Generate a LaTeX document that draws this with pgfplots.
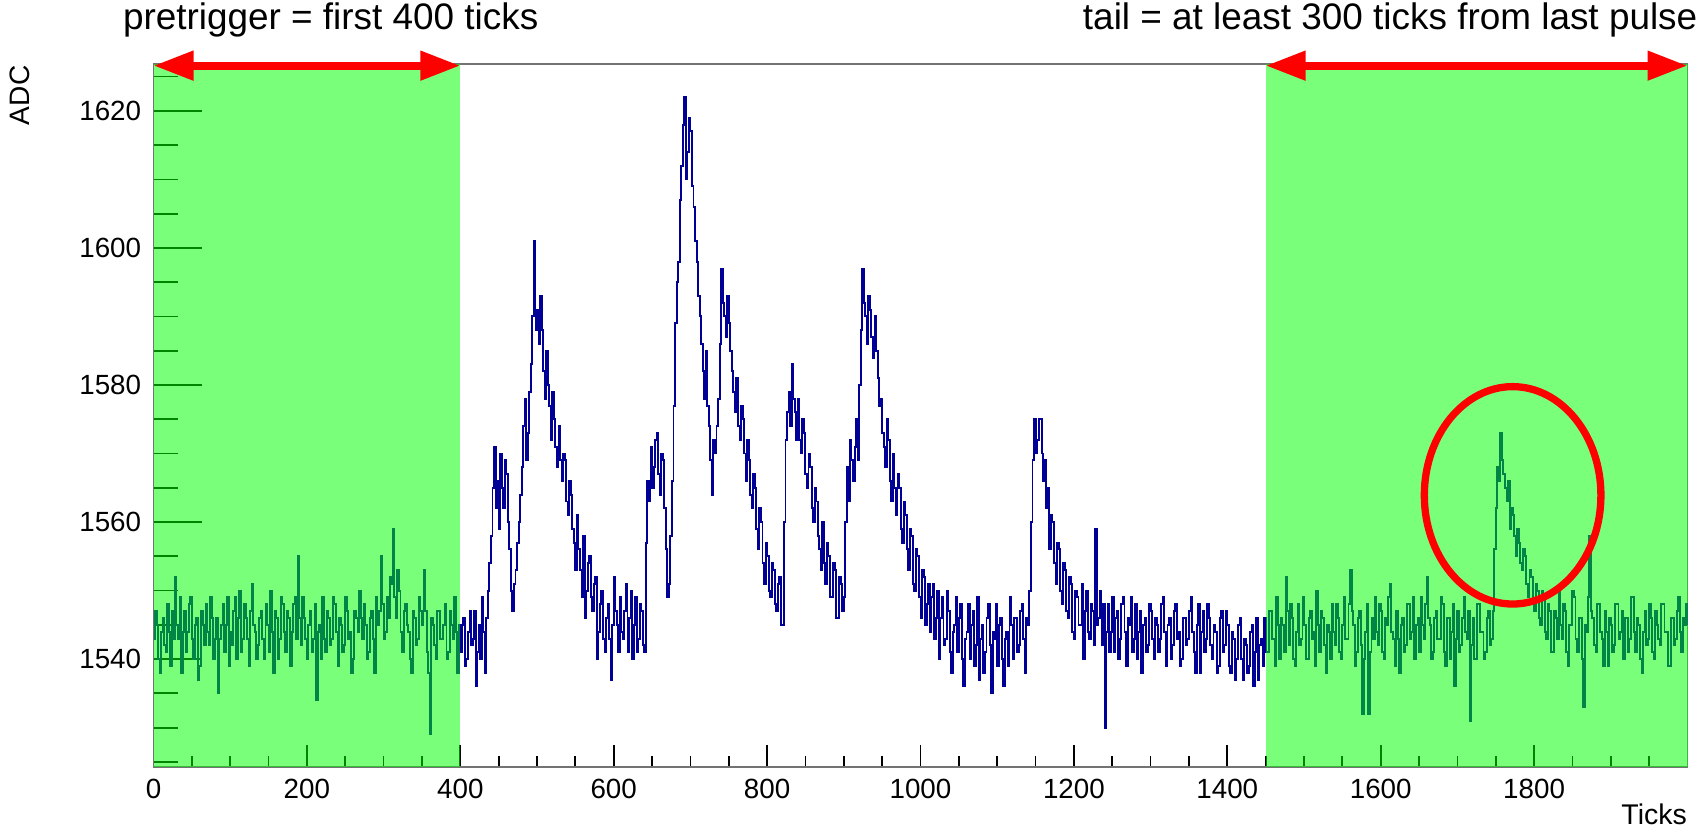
\documentclass[border=0pt]{standalone}
\usepackage{fontspec}
\setmainfont{Liberation Sans}
\usepackage{pgfplots}
\usepackage{pgfplotstable}
\pgfplotsset{compat=1.18}
\usetikzlibrary{arrows.meta}
\definecolor{wavecol}{RGB}{0,0,150}
\pgfplotstableread[header=false]{
1543
1547
1545
1540
1538
1544
1546
1542
1541
1548
1544
1539
1547
1543
1552
1545
1543
1549
1538
1544
1547
1541
1544
1548
1549
1543
1540
1545
1546
1537
1539
1547
1545
1542
1548
1544
1542
1549
1546
1540
1543
1546
1535
1543
1545
1548
1541
1545
1549
1539
1544
1542
1547
1549
1540
1546
1550
1541
1543
1548
1546
1543
1539
1547
1551
1545
1544
1540
1542
1546
1547
1543
1540
1548
1545
1541
1550
1544
1538
1547
1546
1540
1543
1549
1548
1544
1541
1547
1546
1539
1544
1548
1549
1543
1555
1546
1542
1549
1546
1543
1540
1545
1547
1541
1543
1548
1534
1544
1545
1540
1549
1543
1541
1547
1546
1542
1543
1549
1548
1544
1539
1546
1545
1541
1542
1549
1547
1543
1544
1538
1540
1547
1546
1544
1550
1546
1543
1548
1545
1540
1541
1546
1547
1543
1538
1549
1545
1547
1555
1548
1543
1544
1549
1546
1552
1551
1559
1549
1546
1553
1550
1544
1541
1547
1548
1545
1544
1540
1538
1547
1546
1542
1543
1549
1547
1545
1553
1547
1541
1538
1529
1546
1545
1542
1540
1547
1547
1543
1543
1545
1548
1540
1541
1547
1545
1543
1549
1544
1538
1545
1541
1545
1546
1539
1540
1544
1547
1542
1543
1547
1536
1541
1545
1540
1549
1544
1538
1546
1550
1554
1558
1565
1571
1562
1566
1559
1570
1565
1562
1569
1567
1560
1556
1550
1547
1551
1553
1557
1560
1564
1568
1574
1578
1569
1573
1579
1583
1590
1601
1588
1591
1586
1593
1588
1582
1578
1585
1580
1577
1572
1579
1575
1571
1568
1574
1569
1566
1570
1569
1563
1561
1566
1564
1559
1557
1553
1561
1556
1553
1549
1558
1546
1550
1554
1555
1549
1547
1551
1552
1540
1544
1548
1550
1543
1541
1546
1548
1543
1537
1545
1552
1547
1545
1541
1549
1544
1543
1547
1551
1541
1546
1550
1540
1545
1549
1541
1543
1548
1547
1542
1541
1557
1566
1563
1571
1565
1568
1572
1573
1567
1564
1570
1569
1562
1556
1549
1551
1558
1566
1577
1589
1595
1598
1607
1612
1618
1622
1610
1614
1619
1617
1609
1606
1601
1598
1593
1590
1586
1582
1578
1585
1577
1574
1569
1564
1572
1570
1574
1578
1586
1597
1592
1590
1587
1593
1589
1585
1582
1579
1576
1581
1574
1572
1577
1575
1570
1566
1572
1569
1564
1562
1567
1565
1559
1556
1562
1560
1554
1551
1557
1555
1550
1549
1554
1553
1548
1547
1551
1552
1545
1545
1560
1572
1576
1579
1574
1583
1578
1576
1572
1578
1572
1570
1575
1573
1567
1565
1570
1568
1562
1560
1565
1563
1558
1556
1553
1560
1554
1551
1557
1555
1549
1549
1554
1553
1546
1546
1552
1551
1547
1549
1560
1568
1563
1572
1569
1566
1571
1575
1569
1580
1588
1597
1592
1590
1586
1593
1591
1587
1584
1590
1585
1581
1577
1578
1573
1571
1568
1575
1572
1566
1563
1570
1565
1561
1567
1565
1559
1557
1563
1561
1556
1553
1559
1558
1551
1550
1556
1555
1549
1546
1553
1552
1545
1548
1551
1544
1549
1551
1543
1546
1550
1540
1546
1549
1542
1543
1550
1547
1541
1538
1544
1545
1549
1541
1546
1548
1540
1536
1543
1544
1548
1540
1545
1547
1539
1542
1549
1537
1543
1545
1538
1541
1546
1548
1542
1535
1544
1543
1548
1539
1545
1546
1540
1536
1543
1544
1539
1549
1545
1540
1546
1546
1541
1542
1547
1548
1543
1538
1546
1545
1550
1560
1569
1575
1570
1572
1575
1575
1570
1566
1569
1562
1565
1556
1561
1560
1554
1551
1557
1556
1550
1548
1554
1553
1547
1546
1552
1551
1544
1543
1550
1549
1545
1545
1551
1540
1547
1550
1544
1543
1548
1547
1542
1559
1545
1546
1550
1542
1548
1530
1544
1548
1541
1544
1549
1541
1546
1547
1540
1543
1548
1549
1544
1539
1546
1545
1549
1541
1543
1548
1540
1544
1547
1538
1545
1546
1541
1542
1548
1547
1543
1540
1546
1545
1541
1543
1548
1549
1544
1539
1545
1546
1540
1542
1547
1548
1543
1544
1539
1540
1546
1546
1542
1543
1547
1549
1544
1541
1538
1545
1548
1538
1544
1547
1541
1543
1548
1546
1542
1540
1545
1544
1538
1539
1546
1547
1541
1542
1547
1545
1539
1538
1544
1543
1537
1540
1545
1546
1540
1537
1543
1542
1538
1539
1544
1545
1536
1541
1546
1537
1542
1543
1539
1546
1541
1541
1547
1547
1543
1543
1539
1549
1545
1540
1546
1545
1541
1552
1547
1542
1548
1546
1540
1539
1544
1548
1542
1543
1549
1545
1540
1540
1546
1547
1543
1544
1539
1550
1545
1541
1547
1546
1542
1538
1545
1544
1540
1548
1544
1542
1548
1546
1541
1540
1545
1549
1543
1543
1548
1553
1547
1545
1539
1541
1546
1547
1542
1532
1540
1544
1548
1532
1541
1546
1543
1549
1544
1542
1548
1547
1541
1540
1546
1545
1549
1551
1544
1543
1539
1547
1543
1538
1545
1546
1541
1542
1548
1548
1543
1544
1549
1540
1545
1546
1541
1549
1545
1543
1548
1552
1546
1545
1540
1541
1546
1547
1543
1543
1549
1548
1541
1539
1546
1546
1540
1544
1548
1536
1543
1547
1541
1542
1546
1549
1544
1543
1547
1531
1542
1546
1540
1540
1548
1548
1544
1544
1540
1541
1546
1547
1542
1543
1547
1556
1562
1568
1566
1573
1569
1567
1565
1563
1566
1559
1562
1561
1558
1555
1559
1557
1554
1553
1556
1555
1551
1549
1553
1552
1548
1547
1551
1550
1546
1545
1550
1549
1544
1543
1548
1547
1541
1541
1547
1546
1543
1550
1545
1543
1548
1547
1541
1539
1545
1545
1550
1549
1543
1541
1546
1546
1540
1533
1545
1544
1549
1558
1547
1546
1542
1541
1548
1548
1544
1543
1539
1547
1544
1539
1546
1545
1541
1542
1548
1548
1543
1544
1547
1540
1546
1546
1541
1543
1549
1549
1544
1541
1546
1545
1540
1538
1544
1547
1542
1543
1548
1546
1541
1540
1547
1545
1543
1542
1548
1548
1544
1544
1539
1539
1546
1546
1542
1543
1547
1549
1544
1541
1546
1545
1548
1545
}\wave

\begin{document}
\begin{tikzpicture}
\pgfplotsset{
  base/.style={set layers, scale only axis, width=153.4mm, height=70.24mm,
    at={(0,0)}, anchor=south west,
    xmin=0, xmax=2000, ymin=1524.3, ymax=1626.8,
    tick align=inside,
    axis line style={black!55, line width=0.5pt},
    tick style={black, line width=0.5pt},
    /pgf/number format/assume math mode=true,
    /pgf/number format/1000 sep={},
    ticklabel style={font=\fontsize{7.9}{9}\selectfont},
    xtick pos=bottom, ytick pos=left}
}
\begin{axis}[base, xtick=\empty, ytick={1540,1560,1580,1600,1620},
  minor ytick={1525,1530,...,1625},
  major tick length=4.8mm, minor tick length=2.4mm]
\addplot[draw=none, forget plot] table[x expr=\coordindex*2, y index=0] {\wave};
\end{axis}
\begin{axis}[base, clip=false, ytick=\empty,
  xtick={0,200,...,1800}, minor xtick={50,100,...,1950},
  major tick length=2.17mm, minor tick length=1.07mm]
\addplot[const plot, wavecol, line width=0.55pt] table[x expr=\coordindex*2, y index=0] {\wave};
\fill[green, opacity=0.52] (axis cs:0,1524.3) rectangle (axis cs:400,1626.8);
\fill[green, opacity=0.52] (axis cs:1450,1524.3) rectangle (axis cs:2000,1626.8);
\draw[red, line width=0.77mm, {Triangle[length=4mm,width=2.8mm]}-{Triangle[length=4mm,width=2.8mm]}] (axis cs:0,1626.6) -- (axis cs:400,1626.6);
\draw[red, line width=0.77mm, {Triangle[length=4mm,width=2.8mm]}-{Triangle[length=4mm,width=2.8mm]}] (axis cs:1450,1626.6) -- (axis cs:2000,1626.6);
\draw[red, line width=0.73mm] (axis cs:1772,1563.9) ellipse [x radius=8.83mm, y radius=10.87mm];
\node[anchor=base, inner sep=0pt, font=\fontsize{10.5}{12}\selectfont] at ([yshift=3.5mm]axis cs:231,1626.8) {pretrigger = first 400 ticks};
\node[anchor=base east, inner sep=0pt, font=\fontsize{10.5}{12}\selectfont] at ([xshift=1.05mm,yshift=3.5mm]axis cs:2000,1626.8) {tail = at least 300 ticks from last pulse};
\node[rotate=90, anchor=east, inner sep=0pt, font=\fontsize{8}{9}\selectfont] at ([xshift=-13.4mm,yshift=-0.07mm]rel axis cs:0,1) {ADC};
\node[anchor=base east, inner sep=0pt, font=\fontsize{8.1}{9}\selectfont] at ([yshift=-5.83mm]rel axis cs:1,0) {Ticks};
\end{axis}
\pgfresetboundingbox
\useasboundingbox (-15.35mm,-6.23mm) rectangle (154.65mm,76.67mm);
\end{tikzpicture}
\end{document}
